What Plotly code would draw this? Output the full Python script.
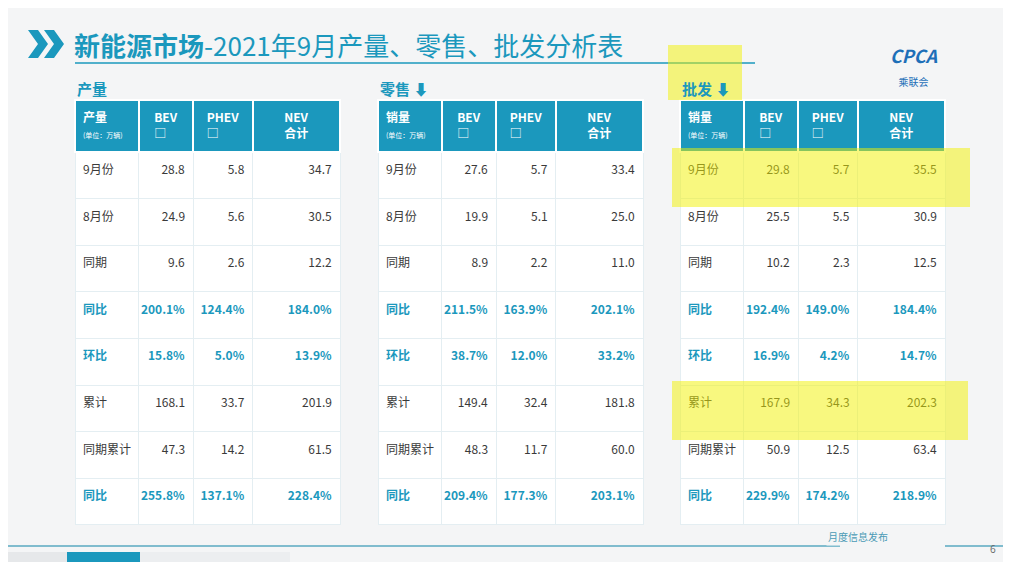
import plotly.graph_objects as go

row_labels = ["9月份", "8月份", "同期", "同比", "环比", "累计", "同期累计", "同比"]
prod_bev = ["28.8", "24.9", "9.6", "200.1%", "15.8%", "168.1", "47.3", "255.8%"]
prod_phev = ["5.8", "5.6", "2.6", "124.4%", "5.0%", "33.7", "14.2", "137.1%"]
prod_nev = ["34.7", "30.5", "12.2", "184.0%", "13.9%", "201.9", "61.5", "228.4%"]
retail_bev = ["27.6", "19.9", "8.9", "211.5%", "38.7%", "149.4", "48.3", "209.4%"]
retail_phev = ["5.7", "5.1", "2.2", "163.9%", "12.0%", "32.4", "11.7", "177.3%"]
retail_nev = ["33.4", "25.0", "11.0", "202.1%", "33.2%", "181.8", "60.0", "203.1%"]
whole_bev = ["29.8", "25.5", "10.2", "192.4%", "16.9%", "167.9", "50.9", "229.9%"]
whole_phev = ["5.7", "5.5", "2.3", "149.0%", "4.2%", "34.3", "12.5", "174.2%"]
whole_nev = ["35.5", "30.9", "12.5", "184.4%", "14.7%", "202.3", "63.4", "218.9%"]
section_titles = ["产量", "零售 ⬇", "批发 ⬇"]
first_headers = ["产量", "销量", "销量"]

OFF = 8
W, H = 1011 - 2 * OFF, 570 - 2 * OFF
BLUE = "#1b98bd"
DARK = "#3a3a3a"
FONT = "Noto Sans CJK SC"
is_ratio = [False, False, False, True, True, False, False, True]
colors = [BLUE if r else DARK for r in is_ratio]

def fx(px): return (px - OFF) / W
def fy(py): return 1 - (py - OFF) / H

fig = go.Figure()
tables = [
    (75, 340, prod_bev, prod_phev, prod_nev),
    (378, 643, retail_bev, retail_phev, retail_nev),
    (680, 945, whole_bev, whole_phev, whole_nev),
]
for i, (x0, x1, b, p, n) in enumerate(tables):
    def fmt(col):
        return ["<br>" + (f"<b>{v}</b>" if r else v) for v, r in zip(col, is_ratio)]
    fig.add_trace(go.Table(
        domain=dict(x=[fx(x0), fx(x1)], y=[fy(532), fy(100)]),
        columnwidth=[62, 53, 58, 85],
        header=dict(
            values=[f"<b>{first_headers[i]}</b><br><span style='font-size:7px'>(单位：万辆)</span>",
                    "<b>BEV</b><br>□", "<b>PHEV</b><br>□", "<b>NEV<br>合计</b>"],
            fill_color=BLUE, line_color="white", line_width=2,
            font=dict(color="white", size=12, family=FONT),
            align=["left", "center", "center", "center"], height=52),
        cells=dict(
            values=[fmt(row_labels), fmt(b), fmt(p), fmt(n)],
            fill_color="white", line_color="#e4eef2", line_width=1,
            font=dict(color=[colors] * 4, size=12, family=FONT),
            align=["left", "right", "right", "right"], height=46.6),
    ))
    fig.add_annotation(x=fx(x0), y=fy(88), xref="paper", yref="paper",
                       text=f"<b>{section_titles[i]}</b>", showarrow=False,
                       xanchor="left", yanchor="middle",
                       font=dict(color=BLUE, size=15, family=FONT))

fig.add_annotation(x=fx(72), y=fy(44), xref="paper", yref="paper",
                   text="<b>新能源市场</b>-2021年9月产量、零售、批发分析表", showarrow=False,
                   xanchor="left", yanchor="middle",
                   font=dict(color=BLUE, size=26, family=FONT))
Y = "#f2f200"
shapes = [
    dict(type="line", x0=fx(75), x1=fx(755), y0=fy(63), y1=fy(63), line=dict(color=BLUE, width=1.5)),
    dict(type="path", path=f"M {fx(28)} {fy(30)} L {fx(38)} {fy(30)} L {fx(48)} {fy(44)} L {fx(38)} {fy(58)} L {fx(28)} {fy(58)} L {fx(38)} {fy(44)} Z",
         fillcolor=BLUE, line_width=0),
    dict(type="path", path=f"M {fx(44)} {fy(30)} L {fx(54)} {fy(30)} L {fx(64)} {fy(44)} L {fx(54)} {fy(58)} L {fx(44)} {fy(58)} L {fx(54)} {fy(44)} Z",
         fillcolor=BLUE, line_width=0),
    dict(type="line", x0=0, x1=fx(840), y0=fy(546), y1=fy(546), line=dict(color="#5aa8c0", width=1.5)),
    dict(type="line", x0=fx(945), x1=1, y0=fy(546), y1=fy(546), line=dict(color="#5aa8c0", width=1.5)),
    dict(type="rect", x0=0, x1=fx(140), y0=0, y1=fy(552), fillcolor="#e6e8ea", line_width=0),
    dict(type="rect", x0=fx(67), x1=fx(140), y0=0, y1=fy(552), fillcolor=BLUE, line_width=0),
    dict(type="rect", x0=fx(140), x1=fx(290), y0=0, y1=fy(552), fillcolor="#eceef0", line_width=0),
    dict(type="rect", x0=fx(668), x1=fx(742), y0=fy(45), y1=fy(100), fillcolor=Y, opacity=0.5, line_width=0, layer="above"),
    dict(type="rect", x0=fx(672), x1=fx(970), y0=fy(148), y1=fy(207), fillcolor=Y, opacity=0.5, line_width=0, layer="above"),
    dict(type="rect", x0=fx(672), x1=fx(968), y0=fy(381), y1=fy(440), fillcolor=Y, opacity=0.5, line_width=0, layer="above"),
]
fig.add_annotation(x=fx(890), y=fy(546), xref="paper", yref="paper", text="月度信息发布",
                   showarrow=False, bgcolor="#f4f5f6", font=dict(color="#4a9ab5", size=10, family=FONT))
fig.add_annotation(x=fx(998), y=fy(558), xref="paper", yref="paper", text="6",
                   showarrow=False, font=dict(color="#666", size=10))
fig.add_annotation(x=fx(940), y=fy(40), xref="paper", yref="paper",
                   text="<b><i>CPCA</i></b><br><span style='font-size:10px'>乘联会</span>",
                   showarrow=False, font=dict(color="#1d6fb8", size=18, family=FONT))
fig.update_layout(width=W, height=H, margin=dict(l=0, r=0, t=0, b=0),
                  paper_bgcolor="#f4f5f6", plot_bgcolor="#f4f5f6", shapes=shapes)
fig.write_html("out.html")
